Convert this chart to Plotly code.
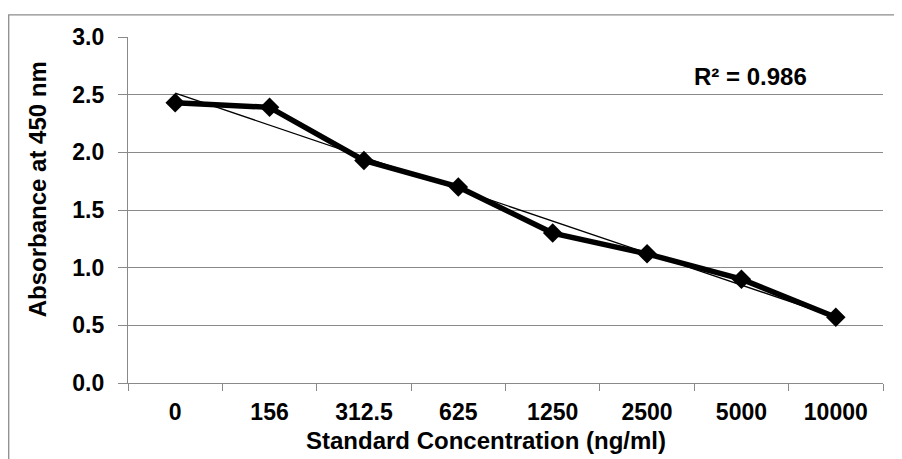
import numpy as np
import plotly.graph_objects as go

categories = ["0", "156", "312.5", "625", "1250", "2500", "5000", "10000"]
absorbance = [2.43, 2.39, 1.93, 1.70, 1.30, 1.12, 0.90, 0.57]
y_tick_vals = [0.0, 0.5, 1.0, 1.5, 2.0, 2.5, 3.0]
y_tick_text = ["0.0", "0.5", "1.0", "1.5", "2.0", "2.5", "3.0"]
r2_label = "R² = 0.986"
x_title = "Standard Concentration (ng/ml)"
y_title = "Absorbance at 450 nm"

# linear trendline over category index (as Excel does for line charts)
idx = np.arange(1, len(categories) + 1)
slope, intercept = np.polyfit(idx, absorbance, 1)
trend = slope * idx + intercept

FONT = "Liberation Sans, Arial, sans-serif"
GRAY = "#898989"

fig = go.Figure()
fig.add_trace(go.Scatter(
    x=categories, y=absorbance, mode="lines+markers",
    line=dict(color="black", width=5.5),
    marker=dict(symbol="diamond", size=15, color="black", line=dict(width=0)),
    showlegend=False, cliponaxis=False,
))
fig.add_trace(go.Scatter(
    x=categories, y=trend.tolist(), mode="lines",
    line=dict(color="black", width=1.3),
    showlegend=False,
))

fig.update_layout(
    width=902, height=459,
    margin=dict(l=120, r=27, t=29, b=84, pad=0),
    plot_bgcolor="white", paper_bgcolor="white",
    font=dict(family=FONT, color="black"),
    xaxis=dict(
        type="category", range=[-0.5, len(categories) - 0.5],
        tickson="boundaries", ticks="outside", ticklen=7, tickcolor=GRAY, tickwidth=1.3,
        showline=True, linecolor=GRAY, linewidth=1.3, showgrid=False,
        ticklabelstandoff=8,
        tickfont=dict(size=23, family=FONT, weight="bold", color="black"),
    ),
    yaxis=dict(
        range=[0, 3], tickvals=y_tick_vals, ticktext=y_tick_text,
        ticks="outside", ticklen=9, tickcolor=GRAY, tickwidth=1.3,
        showline=True, linecolor=GRAY, linewidth=1.3,
        showgrid=True, gridcolor=GRAY, gridwidth=1.3, zeroline=False,
        ticklabelstandoff=9,
        tickfont=dict(size=23, family=FONT, weight="bold", color="black"),
    ),
    shapes=[dict(
        type="rect", xref="paper", yref="paper",
        x0=-0.158, x1=1.1, y0=-0.4, y1=1.064,
        line=dict(color="#8c8c8c", width=1.3), layer="below",
    )],
    annotations=[
        dict(text=y_title, xref="paper", yref="paper", x=-0.1205, y=0.56,
             textangle=-90, showarrow=False, xanchor="center", yanchor="middle",
             font=dict(size=24, family=FONT, weight="bold", color="black")),
        dict(text=x_title, xref="paper", yref="paper", x=0.474, y=-0.165,
             showarrow=False, xanchor="center", yanchor="middle",
             font=dict(size=24, family=FONT, weight="bold", color="black")),
        dict(text=r2_label, xref="paper", yref="paper", x=0.825, y=0.886,
             showarrow=False, xanchor="center", yanchor="middle",
             font=dict(size=24, family=FONT, weight="bold", color="black")),
    ],
)

fig.write_html("out.html")
